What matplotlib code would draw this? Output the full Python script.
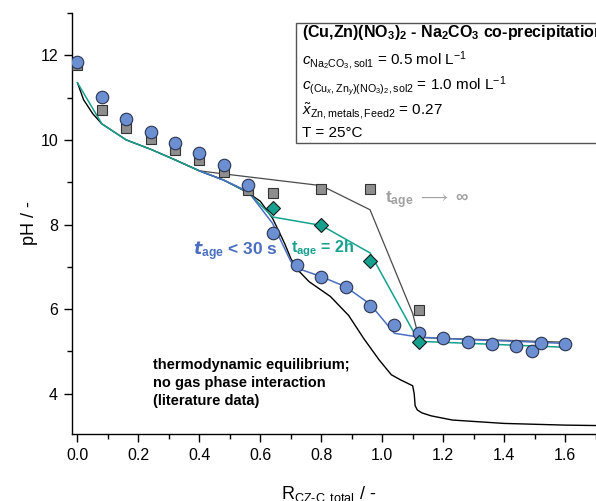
import matplotlib
matplotlib.use("Agg")
import matplotlib.pyplot as plt
from matplotlib.patches import Rectangle
from matplotlib.ticker import MultipleLocator

plt.rcParams['font.family'] = ['Liberation Sans', 'DejaVu Sans']
plt.rcParams['mathtext.fontset'] = 'custom'
plt.rcParams['mathtext.rm'] = 'Liberation Sans'
plt.rcParams['mathtext.it'] = 'Liberation Sans:italic'
plt.rcParams['mathtext.bf'] = 'Liberation Sans:bold'

# measured pH, short ageing (< 30 s)
r_short = [0.0, 0.08, 0.16, 0.24, 0.32, 0.40, 0.48, 0.56, 0.64, 0.72, 0.80, 0.88, 0.96,
           1.04, 1.12, 1.20, 1.28, 1.36, 1.44, 1.49, 1.52, 1.60]
ph_short = [11.85, 11.02, 10.50, 10.19, 9.93, 9.69, 9.40, 8.93, 7.80, 7.05, 6.76, 6.52, 6.08,
            5.63, 5.43, 5.31, 5.23, 5.18, 5.14, 5.02, 5.20, 5.17]

# measured pH, long ageing (t -> infinity)
r_inf = [0.0, 0.08, 0.16, 0.24, 0.32, 0.40, 0.48, 0.56, 0.64, 0.80, 0.96, 1.12]
ph_inf = [11.76, 10.70, 10.28, 10.03, 9.77, 9.52, 9.25, 8.82, 8.74, 8.84, 8.84, 5.97]

# measured pH, 2 h ageing
r_2h = [0.64, 0.80, 0.96, 1.12]
ph_2h = [8.39, 8.00, 7.15, 5.22]

# model curves
line_short_x = [0.40, 0.48, 0.56, 0.64, 0.70, 0.72, 0.80, 0.88, 0.96, 1.04, 1.12, 1.28, 1.44, 1.60]
line_short_y = [9.27, 9.05, 8.78, 8.03, 7.13, 6.97, 6.77, 6.53, 6.12, 5.43, 5.34, 5.28, 5.24, 5.19]

line_2h_x = [0.0, 0.08, 0.16, 0.24, 0.32, 0.40, 0.48, 0.56, 0.64, 0.80, 0.96, 1.12, 1.60]
line_2h_y = [11.35, 10.38, 10.00, 9.78, 9.53, 9.27, 9.05, 8.76, 8.18, 7.98, 7.33, 5.24, 5.10]

line_inf_x = [0.32, 0.40, 0.50, 0.80, 0.96, 1.10, 1.12, 1.60]
line_inf_y = [9.53, 9.27, 9.18, 8.92, 8.35, 5.90, 5.33, 5.22]

eq_x = [0.0, 0.02, 0.05, 0.08, 0.16, 0.24, 0.32, 0.40, 0.48, 0.56, 0.60, 0.64, 0.66, 0.68,
        0.70, 0.72, 0.76, 0.83, 0.89, 0.94, 0.99, 1.03, 1.06, 1.10, 1.105, 1.108, 1.115,
        1.13, 1.16, 1.23, 1.40, 1.60, 1.80]
eq_y = [11.35, 10.95, 10.62, 10.38, 10.00, 9.78, 9.53, 9.27, 9.05, 8.75, 8.55, 8.15, 7.85,
        7.55, 7.20, 6.95, 6.65, 6.30, 5.85, 5.30, 4.80, 4.45, 4.33, 4.19, 4.00, 3.72, 3.62,
        3.55, 3.48, 3.38, 3.30, 3.26, 3.24]

c_blue_fill = '#6b8fd0'
c_blue = '#4a6fc0'
c_teal = '#16a08e'
c_gray_fill = '#8e8e8e'
c_gray_line = '#4a4a4a'

fig = plt.figure(figsize=(5.96, 5.01), dpi=100)
ax = fig.add_axes([72/596, 67/501, 554/596, 421/501])
ax.set_xlim(-0.018, 1.80)
ax.set_ylim(3.05, 13.0)

ax.plot(eq_x, eq_y, color='black', lw=1.0, zorder=2)
ax.plot(line_inf_x, line_inf_y, color=c_gray_line, lw=0.9, zorder=2)
ax.plot(line_2h_x, line_2h_y, color=c_teal, lw=1.1, zorder=3)
ax.plot(line_short_x, line_short_y, color=c_blue, lw=1.1, zorder=3)

ax.errorbar(r_inf, ph_inf, yerr=0.07, xerr=0.008, fmt='none', ecolor='#222222',
            elinewidth=0.8, capsize=1.5, zorder=4)
ax.plot(r_inf, ph_inf, ls='none', marker='s', ms=7.5, mfc=c_gray_fill, mec='#333333',
        mew=0.8, zorder=5)
ax.plot(r_short, ph_short, ls='none', marker='o', ms=9, mfc=c_blue_fill, mec='#2b3550',
        mew=0.8, zorder=6)
ax.plot(r_2h, ph_2h, ls='none', marker='D', ms=7.5, mfc=c_teal, mec='#1a1a1a',
        mew=0.8, zorder=7)

for s in ('top', 'right'):
    ax.spines[s].set_visible(False)
for s in ('left', 'bottom'):
    ax.spines[s].set_linewidth(1.0)

ax.xaxis.set_minor_locator(MultipleLocator(0.1))
ax.yaxis.set_minor_locator(MultipleLocator(1))
ax.set_xticks([0.0, 0.2, 0.4, 0.6, 0.8, 1.0, 1.2, 1.4, 1.6])
ax.set_xticklabels(['0.0', '0.2', '0.4', '0.6', '0.8', '1.0', '1.2', '1.4', '1.6'])
ax.set_yticks([4, 6, 8, 10, 12])
ax.set_yticklabels(['4', '6', '8', '10', '12'])
ax.tick_params(which='major', direction='out', length=6, width=1.0, labelsize=11.5, pad=4)
ax.tick_params(which='minor', direction='out', length=3.5, width=1.0)

ax.set_ylabel('pH / -', fontsize=13, labelpad=2)
ax.set_xlabel(r'R$_{\mathrm{CZ\text{-}C,total}}$ / -', fontsize=13, labelpad=14)
ax.xaxis.set_label_coords(0.464, -0.118)

# conditions box
ax.add_patch(Rectangle((0.717, 9.93), 1.3, 2.84, facecolor='white', edgecolor='#555555',
                       lw=1.0, zorder=8, clip_on=False))
tx = 0.737
ax.text(tx, 12.53, r'(Cu,Zn)(NO$_\mathbf{3}$)$_\mathbf{2}$ - Na$_\mathbf{2}$CO$_\mathbf{3}$ co-precipitation',
        fontsize=11.5, fontweight='bold', va='center', zorder=9, clip_on=False)
ax.text(tx, 11.88, r'$c_{\mathrm{Na_2CO_3,sol1}}$ = 0.5 mol L$^{-1}$',
        fontsize=11, va='center', zorder=9)
ax.text(tx, 11.23, r'$c_{\mathrm{(Cu_{\mathit{x}},Zn_{\mathit{y}})(NO_3)_2,sol2}}$ = 1.0 mol L$^{-1}$',
        fontsize=11, va='center', zorder=9)
ax.text(tx, 10.68, r'$\tilde{x}_{\mathrm{Zn,metals,Feed2}}$ = 0.27',
        fontsize=11, va='center', zorder=9)
ax.text(tx, 10.17, 'T = 25°C', fontsize=11, va='center', zorder=9)

# series annotations
ax.text(0.38, 7.36, r'$\mathbfit{t}_\mathbf{age}$ < 30 s', color=c_blue, fontsize=12.5,
        fontweight='bold', va='center', zorder=9)
ax.text(0.70, 7.42, r'$\mathbf{t_{age}}$ = 2h', color=c_teal, fontsize=11.5,
        fontweight='bold', va='center', zorder=9)
ax.text(1.01, 8.58, r'$\mathbf{t_{age}}$ $\longrightarrow$ $\mathbf{\infty}$', color='#a0a0a0',
        fontsize=12.5, fontweight='bold', va='center', zorder=9)
ax.text(0.248, 4.26, 'thermodynamic equilibrium;\nno gas phase interaction\n(literature data)',
        fontsize=10.5, fontweight='bold', va='center', ha='left', linespacing=1.35, zorder=9)

fig.savefig('out.png', dpi=100)
